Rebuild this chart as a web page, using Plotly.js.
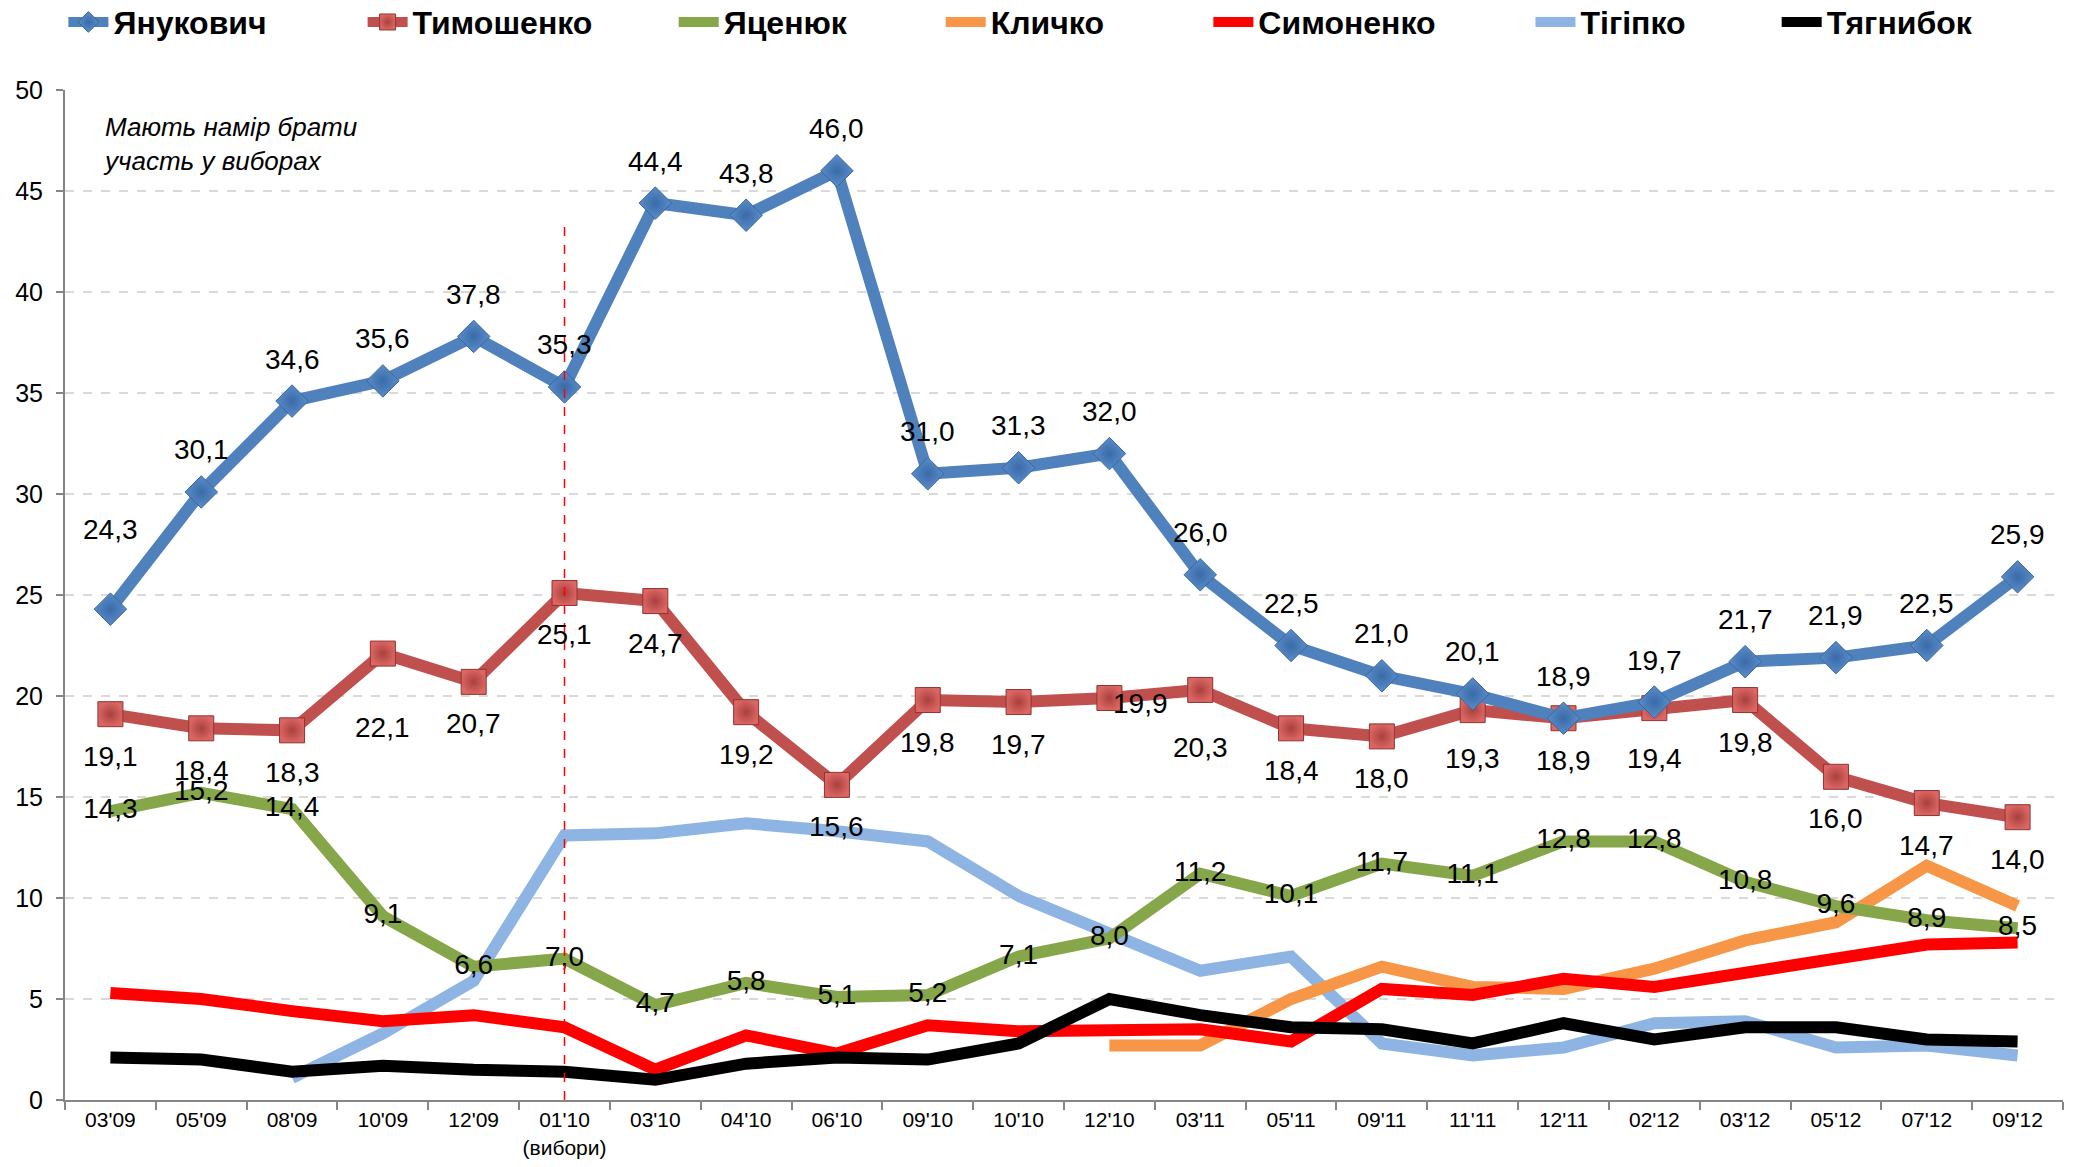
<!DOCTYPE html>
<html>
<head>
<meta charset="utf-8">
<script src="https://cdn.plot.ly/plotly-3.0.1.min.js"></script>
<style>
  html, body { margin: 0; padding: 0; background: #fff; }
  #chart { width: 2078px; height: 1167px; }
</style>
</head>
<body>
<div id="chart"></div>
<script>
// Poll months
const months = ["03'09", "05'09", "08'09", "10'09", "12'09", "01'10", "03'10", "04'10", "06'10", "09'10", "10'10",
    "12'10", "03'11", "05'11", "09'11", "11'11", "12'11", "02'12", "03'12", "05'12", "07'12", "09'12"];
const monthLabels = months.map(m => m === "01'10" ? "01'10<br>(вибори)" : m);

// Ratings, %
const yanukovych = [24.3, 30.1, 34.6, 35.6, 37.8, 35.3, 44.4, 43.8, 46.0, 31.0, 31.3, 32.0, 26.0, 22.5, 21.0, 20.1, 18.9, 19.7, 21.7, 21.9, 22.5, 25.9];
const tymoshenko = [19.1, 18.4, 18.3, 22.1, 20.7, 25.1, 24.7, 19.2, 15.6, 19.8, 19.7, 19.9, 20.3, 18.4, 18.0, 19.3, 18.9, 19.4, 19.8, 16.0, 14.7, 14.0];
const yatsenyuk = [14.3, 15.2, 14.4, 9.1, 6.6, 7.0, 4.7, 5.8, 5.1, 5.2, 7.1, 8.0, 11.2, 10.1, 11.7, 11.1, 12.8, 12.8, 10.8, 9.6, 8.9, 8.5];
const klychko = [null, null, null, null, null, null, null, null, null, null, null, 2.7, 2.7, 5.0, 6.6, 5.6, 5.5, 6.5, 7.9, 8.8, 11.6, 9.6];
const symonenko = [5.3, 5.0, 4.4, 3.9, 4.2, 3.6, 1.5, 3.2, 2.3, 3.7, 3.4, 3.4, 3.5, 2.9, 5.5, 5.2, 6.0, 5.6, 6.3, 6.9, 7.7, 7.8];
const tihipko = [null, null, 1.1, 3.3, 5.9, 13.1, 13.2, 13.7, 13.3, 12.8, 10.1, 8.3, 6.4, 7.1, 2.8, 2.2, 2.6, 3.8, 3.9, 2.6, 2.7, 2.2];
const tyahnybok = [2.1, 2.0, 1.4, 1.7, 1.5, 1.4, 1.0, 1.8, 2.1, 2.0, 2.8, 5.0, 4.2, 3.6, 3.5, 2.8, 3.8, 3.0, 3.6, 3.6, 3.0, 2.9];

const electionMonth = "01'10";
const electionLineTop = 43.6;

const FONT = 'Liberation Sans, Arial, sans-serif';
const LABEL_FONT = { family: FONT, size: 28, color: '#000' };

// label gaps (px) that differ from the usual one
const yanShift = { "03'09": 80 };
const tymShift = { "10'09": -74, "03'11": -58, "11'11": -48, "02'12": -50 };

// left edge of each legend entry, share of page width
const legendX = [0.0305, 0.1745, 0.3242, 0.4527, 0.5815, 0.7365, 0.855];

function fmt(v) {
    return v.toFixed(1).replace('.', ',');
}

function lineTrace(name, values, color, extra) {
    return Object.assign({
        x: months,
        y: values,
        name: name,
        type: 'scatter',
        mode: 'lines',
        line: { color: color, width: 12 },
        connectgaps: false,
        cliponaxis: false
    }, extra || {});
}

const traces = [
    lineTrace('Янукович', yanukovych, '#4F81BD', {
        mode: 'lines+markers',
        marker: { symbol: 'diamond', size: 25, color: '#5B8DCB',
            line: { color: '#3B6699', width: 1 },
            gradient: { type: 'radial', color: '#3A6AA8' } }
    }),
    lineTrace('Тимошенко', tymoshenko, '#C0504D', {
        mode: 'lines+markers',
        marker: { symbol: 'square', size: 25, color: '#DB6663',
            line: { color: '#8E3533', width: 1 },
            gradient: { type: 'radial', color: '#A8403D' } }
    }),
    lineTrace('Яценюк', yatsenyuk, '#86A64A', {
        mode: 'lines+text',
        text: yatsenyuk.map(fmt),
        textposition: 'middle center',
        textfont: LABEL_FONT
    }),
    lineTrace('Кличко', klychko, '#F79646'),
    lineTrace('Симоненко', symonenko, '#FF0000'),
    lineTrace('Тігіпко', tihipko, '#8EB4E3'),
    lineTrace('Тягнибок', tyahnybok, '#000000')
];

// one legend per entry so each can sit where the original puts it
const legends = {};
traces.forEach((t, i) => {
    const key = i === 0 ? 'legend' : 'legend' + (i + 1);
    t.legend = key;
    legends[key] = {
        orientation: 'h',
        xref: 'container', yref: 'container',
        x: legendX[i], y: 0.981,
        xanchor: 'left', yanchor: 'middle',
        bgcolor: 'rgba(0,0,0,0)',
        font: { family: FONT, size: 32, weight: 'bold', color: '#000' },
        itemwidth: 40
    };
});

// draw order: lines first, Yanukovych on top
const order = [5, 3, 4, 6, 2, 1, 0];
const data = order.map(i => traces[i]);

// value labels for Yanukovych (above) and Tymoshenko (below)
const labels = [];
yanukovych.forEach((v, i) => {
    labels.push({
        xref: 'x', yref: 'y', x: months[i], y: v,
        text: fmt(v), showarrow: false,
        xanchor: 'center', yanchor: 'middle',
        yshift: yanShift[months[i]] || 42,
        font: LABEL_FONT
    });
});
tymoshenko.forEach((v, i) => {
    const side = months[i] === "12'10";
    labels.push({
        xref: 'x', yref: 'y', x: months[i], y: v,
        text: fmt(v), showarrow: false,
        xanchor: side ? 'left' : 'center', yanchor: 'middle',
        xshift: side ? 2 : 0,
        yshift: side ? -5 : (tymShift[months[i]] || -42),
        font: LABEL_FONT
    });
});

const layout = Object.assign({
    width: 2078,
    height: 1167,
    paper_bgcolor: '#fff',
    plot_bgcolor: '#fff',
    margin: { l: 65, r: 15, t: 90, b: 67 },
    font: { family: FONT, size: 22, color: '#000' },
    showlegend: true,
    xaxis: {
        type: 'category',
        categoryorder: 'array',
        categoryarray: months,
        tickvals: months,
        ticktext: monthLabels,
        tickangle: 0,
        range: [-0.5, months.length - 0.5],
        showline: true,
        linecolor: '#868686',
        linewidth: 2,
        ticks: 'outside',
        tickson: 'boundaries',
        ticklen: 8,
        tickcolor: '#868686',
        tickwidth: 2,
        showgrid: false,
        zeroline: false,
        tickfont: { family: FONT, size: 21, color: '#000' }
    },
    yaxis: {
        range: [0, 50],
        dtick: 5,
        showline: true,
        linecolor: '#868686',
        linewidth: 2,
        ticks: 'outside',
        ticklen: 7,
        tickcolor: '#868686',
        tickwidth: 2,
        ticklabelstandoff: 8,
        showgrid: true,
        gridcolor: '#D9D9D9',
        griddash: 'dash',
        gridwidth: 1.5,
        zeroline: false,
        tickfont: { family: FONT, size: 25, color: '#000' }
    },
    shapes: [{
        type: 'line',
        xref: 'x', yref: 'y',
        x0: electionMonth, x1: electionMonth,
        y0: 0, y1: electionLineTop,
        line: { color: '#FF0000', width: 1.5, dash: 'dash' }
    }],
    annotations: [{
        xref: 'paper', yref: 'y',
        x: 0.018, y: 49.0,
        xanchor: 'left', yanchor: 'top',
        align: 'left',
        showarrow: false,
        text: 'Мають намір брати<br>участь у виборах',
        font: { family: FONT, size: 26, style: 'italic', color: '#000' }
    }].concat(labels)
}, legends);

Plotly.newPlot('chart', data, layout, { displayModeBar: false, staticPlot: true });
</script>
</body>
</html>
